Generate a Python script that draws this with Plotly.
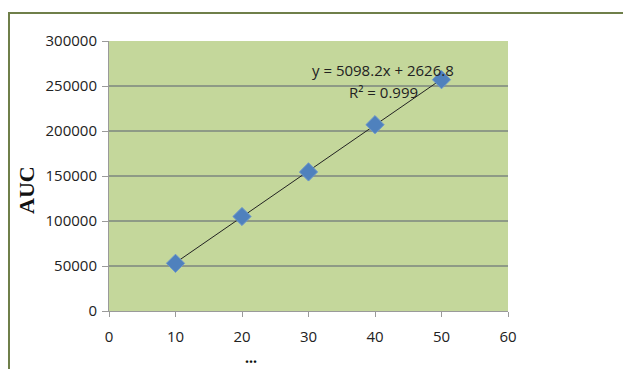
import plotly.graph_objects as go

# Data
conc = [10, 20, 30, 40, 50]
auc = [53000, 105000, 154500, 207000, 257000]
slope = 5098.2
intercept = 2626.8
eq_text = "y = 5098.2x + 2626.8"
r2_text = "R² = 0.999"
x_ticks = [0, 10, 20, 30, 40, 50, 60]
y_ticks = [0, 50000, 100000, 150000, 200000, 250000, 300000]
y_tick_labels = ["0", "50000", "100000", "150000", "200000", "250000", "300000"]

# page has an 8px body margin; figure is drawn from (8,8)
OFF = 8
W, H = 631 - OFF, 369 - OFF
PL, PR, PT, PB = 109, 508, 41, 311  # plot area in screen pixels
L, R, T, B = PL - OFF, 631 - PR, PT - OFF, 369 - PB
pw, ph = PR - PL, PB - PT

def px_x(p):
    return (p - PL) / pw

def px_y(p):
    return (PB - p) / ph

trend_x = [min(conc), max(conc)]
trend_y = [slope * v + intercept for v in trend_x]

fig = go.Figure()
fig.add_trace(go.Scatter(x=trend_x, y=trend_y, mode="lines",
                         line=dict(color="#222222", width=1), hoverinfo="skip"))
fig.add_trace(go.Scatter(x=conc, y=auc, mode="markers",
                         marker=dict(symbol="diamond", size=14, color="#4f81bd",
                                     line=dict(color="#6a95cc", width=1))))

font = dict(family="Open Sans, Liberation Sans, sans-serif", size=15, color="#222222")

fig.update_layout(
    width=W, height=H,
    margin=dict(l=L, r=R, t=T, b=B, pad=0),
    paper_bgcolor="white",
    plot_bgcolor="#c4d79b",
    showlegend=False,
    font=font,
    xaxis=dict(range=[0, 60], tickvals=x_ticks, showgrid=False, zeroline=False,
               showline=True, linecolor="#9a9a9a", linewidth=1,
               ticks="outside", ticklen=5, tickcolor="#9a9a9a", tickfont=font,
               ticklabelstandoff=7),
    yaxis=dict(range=[0, 300000], tickvals=y_ticks, ticktext=y_tick_labels,
               showgrid=True, gridcolor="#8e9a86", gridwidth=1.5, zeroline=False,
               showline=True, linecolor="#9a9a9a", linewidth=1,
               ticks="outside", ticklen=6, tickcolor="#9a9a9a", tickfont=font,
               ticklabelstandoff=2),
)

fig.add_annotation(xref="paper", yref="paper", x=px_x(383), y=px_y(70), text=eq_text,
                   showarrow=False, font=font, xanchor="center", yanchor="middle")
fig.add_annotation(xref="paper", yref="paper", x=px_x(383), y=px_y(92), text=r2_text,
                   showarrow=False, font=font, xanchor="center", yanchor="middle")

# axis titles
fig.add_annotation(xref="paper", yref="paper", x=px_x(26), y=px_y(190), text="<b>AUC</b>",
                   showarrow=False, textangle=-90, xanchor="center", yanchor="middle",
                   font=dict(family="Liberation Serif, serif", size=22, color="#111111"))
fig.add_annotation(xref="paper", yref="paper", x=px_x(251), y=px_y(357), text="<b>...</b>",
                   showarrow=False, xanchor="center", yanchor="middle",
                   font=dict(family="Liberation Serif, serif", size=16, color="#111111"))

# outer chart border (left and top)
fig.add_shape(type="path", xref="paper", yref="paper",
              path=f"M {px_x(9)} {px_y(380)} L {px_x(9)} {px_y(13)} L {px_x(640)} {px_y(13)}",
              line=dict(color="#6f7f4a", width=2))

fig.write_html("out.html")
